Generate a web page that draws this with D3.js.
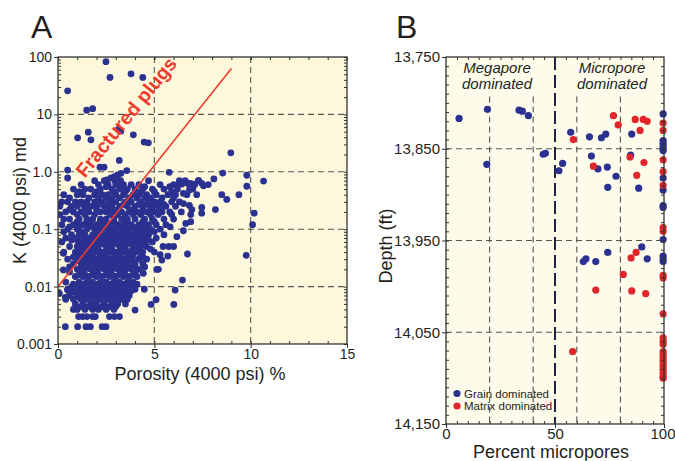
<!DOCTYPE html>
<html><head><meta charset="utf-8">
<script src="https://cdn.jsdelivr.net/npm/d3@7"></script>
<style>body{margin:0;background:#fff}svg{display:block}text{font-family:"Liberation Sans",Arial,sans-serif;fill:#231f20}</style>
</head><body><svg id="c" width="675" height="461"></svg>
<script>
// ---------- Panel A data ----------
const porosityTicks = [0, 5, 10, 15];
const permTicks = [100, 10, 1, 0.1, 0.01, 0.001];
const permTickLabels = ["100", "10", "1.0", "0.1", "0.01", "0.001"];
const porosityGrid = [5, 10];
const permGrid = [10, 1, 0.1, 0.01];
const fractureLine = [[0, 0.01], [9, 63]];
// isolated plugs [porosity %, K md]
const plugOutliers = [
  [2.49, 83], [0.5, 25.7], [2.7, 44], [3.79, 51], [4.4, 44], [1.49, 11.8], [1.8, 12.6],
  [1.02, 3.9], [1.57, 4.9], [1.71, 3.6], [3.13, 5.5], [3.26, 5.1], [3.91, 4.4], [4.47, 3.3], [4.69, 3.2],
  [3.18, 1.58], [8.97, 2.14], [0.5, 1.07], [0.5, 0.78], [2.18, 1.2], [2.39, 1.2], [3.57, 1.05],
  [5.77, 0.98], [8.55, 0.95], [9.8, 0.87], [10.67, 0.69], [9.8, 0.56], [8.09, 0.75], [8.5, 0.4],
  [8.76, 0.33], [9.39, 0.4], [8.17, 0.22], [10.18, 0.19], [10.1, 0.12], [7.46, 0.24], [7.46, 0.19],
  [3.1, 0.88], [3.27, 0.94], [2.93, 0.82], [2.75, 0.78], [2.53, 0.72],
  [6.19, 0.57], [6.43, 0.61], [6.65, 0.65], [6.86, 0.63], [7.03, 0.61], [7.29, 0.7], [7.46, 0.63], [7.55, 0.57],
  [6.51, 0.42], [6.69, 0.4], [6.82, 0.48], [6.51, 0.28], [6.82, 0.26], [6.95, 0.22], [6.89, 0.18],
  [6.89, 0.135], [6.63, 0.126], [6.51, 0.094], [6.17, 0.074], [5.82, 0.11],
  [9.77, 0.035], [6.72, 0.037], [6.46, 0.013], [6.08, 0.0087], [5.13, 0.02], [5.21, 0.02],
  [5.09, 0.0059], [6.01, 0.0049], [4.83, 0.0049], [5.7, 0.034], [5.39, 0.029], [5.3, 0.036],
  [5.45, 0.05], [5.75, 0.05], [6.0, 0.05], [4.0, 0.0039], [4.48, 0.009], [4.43, 0.017],
  [0.38, 0.0065], [0.07, 0.0076], [0.5, 0.0087], [0.28, 0.038], [0.28, 0.0195]
];
// main cloud of plugs, grouped by measured K (md): [K, porosities]
const plugRows = [
  [0.7,   [1.9, 2.4, 2.95, 3.25, 4.7, 6.3, 6.6, 7.3]],
  [0.6,   [1.2, 2.1, 2.6, 3.0, 3.4, 3.8, 4.2, 5.3, 6.0, 6.8, 7.1, 7.8]],
  [0.55,  [2.5, 3.3, 4.5, 5.8]],
  [0.5,   [0.8, 1.4, 1.7, 2.2, 2.8, 3.2, 3.6, 4.0, 4.4, 4.9, 5.5, 6.2, 7.0]],
  [0.45,  [1.1, 2.0, 2.9, 3.5, 4.3, 5.0, 5.9]],
  [0.4,   [0.3, 1.0, 1.3, 1.9, 2.3, 2.6, 3.0, 3.4, 3.9, 4.2, 4.6, 5.1, 5.7, 6.1, 7.2]],
  [0.35,  [0.6, 1.6, 2.1, 2.5, 2.8, 3.2, 3.7, 4.1, 4.5, 4.8, 5.4, 6.0]],
  [0.3,   [0.2, 0.5, 0.9, 1.2, 1.5, 1.9, 2.3, 2.7, 3.0, 3.5, 3.8, 4.3, 4.7, 5.0, 5.3, 5.9, 6.3]],
  [0.27,  [1.3, 2.1, 2.6, 3.4, 4.2, 4.6, 5.5]],
  [0.25,  [0.1, 0.7, 1.0, 1.4, 1.7, 2.0, 2.4, 2.8, 3.2, 3.6, 4.0, 4.4, 4.9, 5.2, 5.6, 6.1]],
  [0.22,  [0.6, 1.4, 2.0, 2.7, 3.1, 3.9, 4.4, 4.8, 5.3]],
  [0.2,   [0.4, 0.8, 1.2, 1.6, 2.2, 2.5, 2.9, 3.3, 3.7, 4.1, 4.6, 5.0, 5.4, 5.8, 6.4]],
  [0.18,  [0.1, 1.0, 1.4, 1.9, 2.7, 3.1, 3.5, 3.9, 4.3, 4.8, 5.2, 5.9]],
  [0.15,  [0.3, 0.6, 1.1, 1.5, 1.8, 2.2, 2.5, 2.9, 3.3, 3.6, 4.0, 4.5, 4.9, 5.5, 6.0]],
  [0.135, [1.0, 1.5, 2.2, 2.9, 3.6, 4.4, 5.0]],
  [0.12,  [0.2, 0.8, 1.3, 1.7, 2.0, 2.4, 2.7, 3.1, 3.4, 3.8, 4.2, 4.7, 5.1, 5.6]],
  [0.11,  [0.6, 1.1, 1.6, 2.1, 2.5, 2.8, 3.2, 3.5, 3.9, 4.3, 4.6]],
  [0.1,   [0.5, 1.0, 1.5, 1.9, 2.3, 2.6, 3.0, 3.3, 3.7, 4.0, 4.4, 4.8, 5.3]],
  [0.09,  [0.3, 1.2, 2.1, 2.8, 3.5, 4.2, 4.6, 5.0]],
  [0.08,  [0.7, 1.1, 1.4, 1.8, 2.2, 2.5, 2.9, 3.2, 3.6, 3.9, 4.3, 4.7, 5.5]],
  [0.075, [1.3, 1.9, 2.6, 3.1, 3.5, 4.0, 4.6]],
  [0.07,  [0.4, 0.9, 1.6, 2.0, 2.4, 2.7, 3.0, 3.4, 3.8, 4.1, 4.5, 5.1]],
  [0.065, [0.7, 1.0, 1.4, 1.7, 2.1, 2.5, 2.8, 3.2, 3.5, 3.9, 4.2, 4.7]],
  [0.06,  [0.2, 1.2, 1.5, 1.9, 2.3, 2.6, 3.0, 3.3, 3.7, 4.0, 4.4, 4.9]],
  [0.055, [1.1, 1.6, 2.0, 2.4, 2.7, 3.1, 3.4, 3.8, 4.1, 4.5]],
  [0.05,  [0.6, 1.0, 1.4, 1.7, 2.1, 2.5, 2.8, 3.2, 3.5, 3.9, 4.3, 4.6]],
  [0.045, [1.2, 1.9, 2.6, 3.3, 4.1, 4.8]],
  [0.042, [1.1, 1.5, 1.8, 2.1, 2.5, 2.8, 3.2, 3.5, 3.8, 4.2]],
  [0.04,  [0.3, 0.9, 1.3, 1.6, 2.0, 2.3, 2.7, 3.0, 3.4, 3.7, 4.0, 4.4, 5.0]],
  [0.035, [1.1, 1.5, 1.8, 2.2, 2.5, 2.9, 3.2, 3.6, 3.9, 4.3]],
  [0.033, [0.8, 1.6, 2.3, 3.0, 3.7, 4.4]],
  [0.03,  [0.5, 1.0, 1.3, 1.7, 2.0, 2.4, 2.7, 3.1, 3.4, 3.8, 4.2, 4.6]],
  [0.028, [1.1, 1.4, 1.8, 2.1, 2.5, 2.8, 3.2, 3.5, 3.9]],
  [0.025, [0.8, 1.2, 1.5, 1.9, 2.2, 2.6, 2.9, 3.3, 3.6, 4.0, 4.4]],
  [0.022, [0.6, 1.2, 1.6, 1.9, 2.3, 2.6, 3.0, 3.3, 3.7, 4.0, 4.5]],
  [0.02,  [1.0, 1.4, 1.7, 2.1, 2.4, 2.8, 3.1, 3.5, 3.8, 4.2]],
  [0.018, [0.6, 1.2, 1.9, 2.6, 3.3, 4.0]],
  [0.016, [1.1, 1.4, 1.8, 2.1, 2.5, 2.8, 3.2, 3.5, 3.9]],
  [0.015, [0.9, 1.3, 1.6, 2.0, 2.3, 2.7, 3.0, 3.4, 3.7, 4.1]],
  [0.012, [0.4, 1.1, 1.5, 1.8, 2.2, 2.5, 2.9, 3.2, 3.6, 3.9]],
  [0.011, [0.8, 1.3, 1.6, 2.0, 2.3, 2.7, 3.0, 3.4, 3.7, 4.1]],
  [0.01,  [0.7, 1.0, 1.4, 1.7, 2.1, 2.4, 2.8, 3.1, 3.5, 3.8]],
  [0.009, [0.5, 1.2, 1.9, 2.6, 3.3, 4.0]],
  [0.0085,[1.0, 1.35, 1.7, 2.0, 2.35, 2.7, 3.05, 3.4, 3.8]],
  [0.008, [0.8, 1.1, 1.5, 1.8, 2.2, 2.5, 2.9, 3.2, 3.6]],
  [0.007, [0.6, 1.0, 1.3, 1.7, 2.0, 2.4, 2.7, 3.0, 3.4, 3.7]],
  [0.0065,[1.1, 1.4, 1.75, 2.1, 2.4, 2.8, 3.1, 3.5]],
  [0.006, [0.4, 0.8, 1.2, 1.5, 1.9, 2.2, 2.6, 2.9, 3.3, 3.6]],
  [0.005, [0.9, 1.3, 1.7, 2.0, 2.4, 2.8, 3.1, 3.5]],
  [0.0045,[1.2, 1.6, 1.95, 2.3, 2.7, 3.0]],
  [0.004, [0.8, 1.0, 1.4, 1.8, 2.1, 2.5, 2.9]],
  [0.003, [1.07, 1.28, 1.5, 1.8, 1.94, 2.67, 2.93, 3.19]],
  [0.002, [0.38, 1.02, 1.45, 1.68, 2.29, 2.49]]
];

// ---------- Panel B data ----------
const microTicks = [0, 50, 100];
const depthTicks = [13750, 13850, 13950, 14050, 14150];
const microGrid = [20, 40, 60, 80];
const depthGrid = [13850, 13950, 14050];
const poreDivide = 50;
// [percent micropores, depth ft]
const grainDominated = [
  [6, 13817], [19, 13807], [18.7, 13867], [33.5, 13808], [35, 13809], [37.8, 13814], [44.6, 13856], [45.6, 13855],
  [51.8, 13874], [53.5, 13866], [57.2, 13832], [65.8, 13837], [66.7, 13858], [69.7, 13872], [71.3, 13838],
  [73.3, 13834], [74, 13870], [74.2, 13892], [78, 13880], [85.2, 13834], [84.7, 13857], [88.4, 13893],
  [63, 13973], [64.2, 13970], [68.7, 13973], [74.2, 13963], [89.8, 13957], [92.3, 13970],
  [99.6, 13812], [99.6, 13841], [99.6, 13844], [99.6, 13847], [99.6, 13850], [99.6, 13852], [99.6, 13882],
  [99.6, 13895], [99.6, 13912], [99.6, 13914], [99.6, 13949], [99.6, 13967], [99.6, 13970], [99.6, 13973]
];
const matrixDominated = [
  [58.4, 13840], [67.6, 13869], [76.8, 13814], [79, 13824], [84.4, 13859], [86.8, 13818], [89, 13830],
  [90.5, 13818], [92.3, 13820], [90.8, 13865], [87.5, 13879], [68.7, 14004], [58.1, 14071], [81.3, 13987],
  [84.9, 13969], [87.2, 13963], [85.2, 14005], [91.6, 14008],
  [99.6, 13822], [99.6, 13830], [99.6, 13862], [99.6, 13875], [99.6, 13890], [99.6, 13936], [99.6, 13940],
  [99.6, 13988], [99.6, 13991], [99.6, 14030], [99.6, 14056], [99.6, 14060], [99.6, 14063], [99.6, 14071],
  [99.6, 14074], [99.6, 14077], [99.6, 14080], [99.6, 14083], [99.6, 14086], [99.6, 14089], [99.6, 14092],
  [99.6, 14095], [99.6, 14098], [99.6, 14100]
];
const legendItems = ["Grain dominated", "Matrix dominated"];

// ---------- drawing ----------
const BLUE = "#2b3190", RED = "#e2242b";
const svg = d3.select("#c");
const plugs = plugOutliers.concat(plugRows.flatMap(([k, xs]) => xs.map(x => [x, k])));

// Panel A
const A = {l: 58, r: 347, t: 57, b: 344};
const xA = d3.scaleLinear().domain([0, 15]).range([A.l, A.r]);
const yA = d3.scaleLog().domain([0.001, 100]).range([A.b, A.t]);
const gA = svg.append("g");
gA.append("rect").attr("x", A.l).attr("y", A.t).attr("width", A.r - A.l).attr("height", A.b - A.t).attr("fill", "#fdf8dc");
gA.append("defs").append("clipPath").attr("id", "clipA").append("rect")
  .attr("x", A.l).attr("y", A.t).attr("width", A.r - A.l).attr("height", A.b - A.t);
gA.selectAll(".hg").data(permGrid).join("line").attr("x1", A.l).attr("x2", A.r)
  .attr("y1", d => yA(d)).attr("y2", d => yA(d)).attr("stroke", "#555").attr("stroke-width", 1.1).attr("stroke-dasharray", "6,4");
gA.selectAll(".vg").data(porosityGrid).join("line").attr("y1", A.t).attr("y2", A.b)
  .attr("x1", d => xA(d)).attr("x2", d => xA(d)).attr("stroke", "#555").attr("stroke-width", 1.1).attr("stroke-dasharray", "6,4");
gA.append("g").attr("clip-path", "url(#clipA)").selectAll("circle").data(plugs).join("circle")
  .attr("cx", d => xA(d[0])).attr("cy", d => yA(d[1])).attr("r", 3.4).attr("fill", BLUE);
gA.append("line").attr("x1", xA(fractureLine[0][0])).attr("y1", yA(fractureLine[0][1]))
  .attr("x2", xA(fractureLine[1][0])).attr("y2", yA(fractureLine[1][1])).attr("stroke", "#ee3b2f").attr("stroke-width", 1.6);
gA.append("text").attr("transform", "translate(126,117) rotate(-51)").attr("text-anchor", "middle")
  .attr("dominant-baseline", "central").style("font-size", "19.5px").style("font-weight", "bold").style("fill", "#ee3b2f")
  .text("Fractured plugs");

// axes A
const axLeftA = d3.axisLeft(yA).tickValues(permTicks).tickFormat((d, i) => permTickLabels[i]).tickSize(4).tickPadding(2);
const axBottomA = d3.axisBottom(xA).tickValues(porosityTicks).tickSize(4).tickPadding(1);
function styleAxis(g, fs) {
  g.select(".domain").remove();
  g.selectAll("line").attr("stroke", "#333");
  g.selectAll("text").style("font-size", fs).attr("fill", "#231f20");
}
function minorAxis(g) { g.select(".domain").remove(); g.selectAll("line").attr("stroke", "#333"); }
gA.append("g").attr("transform", `translate(${A.l},0)`).call(axLeftA).call(g => styleAxis(g, "14px"));
gA.append("g").attr("transform", `translate(0,${A.b})`).call(axBottomA).call(g => styleAxis(g, "14px"));
const logMinors = [];
[0.001, 0.01, 0.1, 1, 10].forEach(dec => { for (let k = 2; k <= 9; k++) logMinors.push(dec * k); });
const linMinorsA = d3.range(1, 15);
gA.append("g").attr("transform", `translate(${A.l},0)`).call(d3.axisRight(yA).tickValues(logMinors).tickSize(3).tickFormat("")).call(minorAxis);
gA.append("g").attr("transform", `translate(${A.r},0)`).call(d3.axisLeft(yA).tickValues(logMinors.concat(permTicks)).tickSize(3).tickFormat("")).call(minorAxis);
gA.append("g").attr("transform", `translate(0,${A.b})`).call(d3.axisTop(xA).tickValues(linMinorsA).tickSize(3).tickFormat("")).call(minorAxis);
gA.append("g").attr("transform", `translate(0,${A.t})`).call(d3.axisBottom(xA).tickValues(linMinorsA.concat(porosityTicks)).tickSize(3).tickFormat("")).call(minorAxis);
gA.append("rect").attr("x", A.l).attr("y", A.t).attr("width", A.r - A.l).attr("height", A.b - A.t)
  .attr("fill", "none").attr("stroke", "#333").attr("stroke-width", 1.3);
gA.append("text").attr("x", 200).attr("y", 380).attr("text-anchor", "middle").style("font-size", "18px").text("Porosity (4000 psi) %");
gA.append("text").attr("transform", `translate(26,${(A.t + A.b) / 2}) rotate(-90)`).attr("text-anchor", "middle").style("font-size", "18px").text("K (4000 psi) md");
svg.append("text").attr("x", 31).attr("y", 38).style("font-size", "32px").text("A");

// Panel B
const B = {l: 446, r: 664, t: 57, b: 424};
const xB = d3.scaleLinear().domain([0, 100]).range([B.l, B.r]);
const yB = d3.scaleLinear().domain([13750, 14150]).range([B.t, B.b]);
const gB = svg.append("g");
gB.append("rect").attr("x", B.l).attr("y", B.t).attr("width", B.r - B.l).attr("height", B.b - B.t).attr("fill", "#fdfbea");
gB.selectAll(".hg").data(depthGrid).join("line").attr("x1", B.l).attr("x2", B.r)
  .attr("y1", d => yB(d)).attr("y2", d => yB(d)).attr("stroke", "#555").attr("stroke-width", 1.1).attr("stroke-dasharray", "6,4");
gB.selectAll(".vg").data(microGrid).join("line").attr("y1", yB(13793)).attr("y2", B.b)
  .attr("x1", d => xB(d)).attr("x2", d => xB(d)).attr("stroke", "#555").attr("stroke-width", 1.1).attr("stroke-dasharray", "6,4");
gB.append("line").attr("x1", xB(poreDivide)).attr("x2", xB(poreDivide)).attr("y1", B.t).attr("y2", B.b)
  .attr("stroke", "#1c2145").attr("stroke-width", 2).attr("stroke-dasharray", "13,5");
gB.selectAll(".gd").data(grainDominated).join("circle").attr("cx", d => xB(d[0])).attr("cy", d => yB(d[1])).attr("r", 3.6).attr("fill", BLUE);
gB.selectAll(".md").data(matrixDominated).join("circle").attr("cx", d => xB(d[0])).attr("cy", d => yB(d[1])).attr("r", 3.6).attr("fill", RED);
const fmt = d3.format(",");
gB.append("g").attr("transform", `translate(${B.l},0)`).call(d3.axisLeft(yB).tickValues(depthTicks).tickFormat(fmt).tickSize(4).tickPadding(2))
  .call(g => styleAxis(g, "15px"));
gB.append("g").attr("transform", `translate(0,${B.b})`).call(d3.axisBottom(xB).tickValues(microTicks).tickSize(4).tickPadding(0))
  .call(g => styleAxis(g, "15px"))
  .call(g => g.selectAll(".tick").filter(d => d === 100).select("text").attr("text-anchor", "end").attr("x", 11));
const depthMinors = d3.range(13760, 14150, 10);
const microMinors = d3.range(5, 100, 5);
[[B.l, d3.axisRight], [B.r, d3.axisLeft]].forEach(([x, ax]) =>
  gB.append("g").attr("transform", `translate(${x},0)`).call(ax(yB).tickValues(depthMinors).tickSize(3).tickFormat("")).call(minorAxis));
[[B.b, d3.axisTop], [B.t, d3.axisBottom]].forEach(([y, ax]) =>
  gB.append("g").attr("transform", `translate(0,${y})`).call(ax(xB).tickValues(microMinors).tickSize(3).tickFormat("")).call(minorAxis));
gB.append("rect").attr("x", B.l).attr("y", B.t).attr("width", B.r - B.l).attr("height", B.b - B.t)
  .attr("fill", "none").attr("stroke", "#333").attr("stroke-width", 1.3);
const cap = gB.append("g").style("font-style", "italic").style("font-size", "15px").attr("text-anchor", "middle");
cap.append("text").attr("x", 497).attr("y", 73).text("Megapore");
cap.append("text").attr("x", 497).attr("y", 89).text("dominated");
cap.append("text").attr("x", 612).attr("y", 73).text("Micropore");
cap.append("text").attr("x", 612).attr("y", 89).text("dominated");
const leg = gB.append("g");
legendItems.forEach((t, i) => {
  leg.append("circle").attr("cx", 457).attr("cy", 393.5 + i * 12.5).attr("r", 3.6).attr("fill", i ? RED : BLUE);
  leg.append("text").attr("x", 464).attr("y", 397.5 + i * 12.5).style("font-size", "11.5px").text(t);
});
gB.append("text").attr("x", 551).attr("y", 458).attr("text-anchor", "middle").style("font-size", "18px").text("Percent micropores");
gB.append("text").attr("transform", `translate(392,246) rotate(-90)`).attr("text-anchor", "middle").style("font-size", "18px").text("Depth (ft)");
svg.append("text").attr("x", 396).attr("y", 38).style("font-size", "32px").text("B");
</script></body></html>
